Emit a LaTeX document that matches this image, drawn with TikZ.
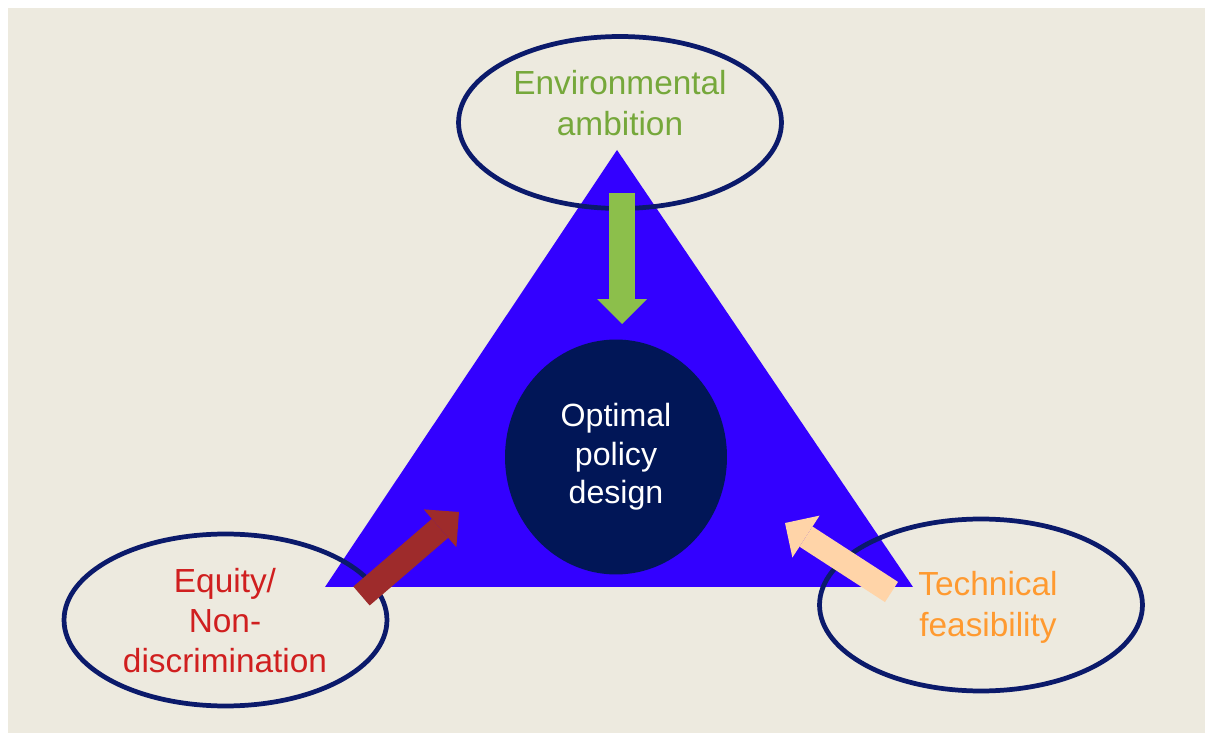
\documentclass[tikz,border=0pt]{standalone}
\usepackage{fontspec}
\setmainfont{Liberation Sans}
\usetikzlibrary{shapes.geometric,arrows.meta}
\definecolor{paper}{HTML}{EDEADF}
\definecolor{tri}{HTML}{3300FF}
\definecolor{rim}{HTML}{0B1A6B}
\definecolor{navycore}{HTML}{011657}
\definecolor{envgreen}{HTML}{76A83B}
\definecolor{envarrow}{HTML}{8CBF4B}
\definecolor{eqred}{HTML}{D01F1F}
\definecolor{eqarrow}{HTML}{9E2B2B}
\definecolor{techorange}{HTML}{FF9A30}
\definecolor{techarrow}{HTML}{FFD4A8}

\begin{document}
\begin{tikzpicture}[x=0.02cm,y=-0.02cm]
\tikzstyle{every node}+=[inner sep=0pt]
\tikzstyle{goal}=[draw=rim, line width=2.7pt, ellipse, minimum width=6.46cm, minimum height=3.44cm]
\tikzstyle{goaltext}=[align=center, font=\fontsize{19}{23}\selectfont]
\tikzstyle{push}=[line width=0.5cm, -{Triangle[width=1cm,length=0.5cm,line width=0pt]}]
\useasboundingbox (0,0) rectangle (1205,733);
\fill [paper] (8,8) rectangle (1205,733);
\coordinate (apex) at (617,150);
\coordinate (baseL) at (325,587);
\coordinate (baseR) at (913,587);
\fill [tri] (apex) -- (baseL) -- (baseR) -- cycle;
\node [goal] (env) at (620,122.5) {};
\node [goal] (equity) at (225.5,620) {};
\node [goal] (tech) at (981,605) {};
\node [ellipse, fill=navycore, minimum width=4.44cm, minimum height=4.7cm, text=white, align=center, font=\fontsize{18.3}{22}\selectfont] (design) at (616,457) {Optimal\\policy\\design};
\coordinate (envtail) at (622,193);
\coordinate (envtip) at (622,324);
\coordinate (equitytail) at (361.5,596);
\coordinate (equitytip) at (459,512);
\coordinate (techtail) at (891.5,592);
\coordinate (techtip) at (785,523);
\draw [push, envarrow, line width=0.52cm] (envtail) -- (envtip);
\draw [push, eqarrow] (equitytail) -- (equitytip);
\draw [push, techarrow, line width=0.48cm] (techtail) -- (techtip);
\node [goaltext, text=envgreen] (envtxt) at (620,103) {Environmental\\ambition};
\node [goaltext, text=eqred] (equitytxt) at (225,620.5) {Equity/\\Non-\\discrimination};
\node [goaltext, text=techorange] (techtxt) at (988,607.5) {Technical\\feasibility};
\end{tikzpicture}
\end{document}
